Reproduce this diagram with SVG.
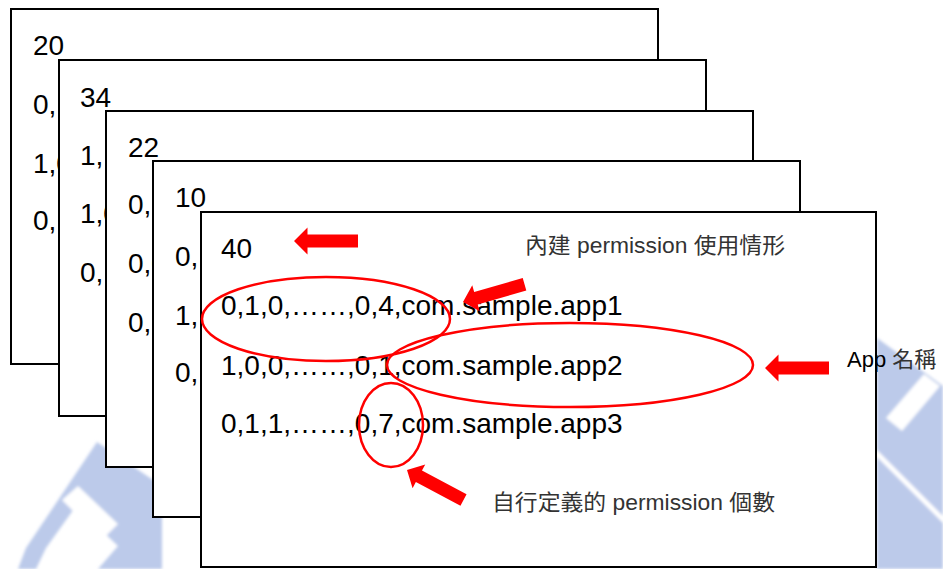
<svg xmlns="http://www.w3.org/2000/svg" xmlns:xlink="http://www.w3.org/1999/xlink" width="943" height="569" viewBox="0 0 943 569">
  <style>
    .card { fill: #ffffff; stroke: #000000; stroke-width: 2; }
    .val { font-family: "Liberation Sans", "Noto Sans", sans-serif; font-size: 28px; fill: #000000; }
    .note { font-family: "Liberation Sans", "Noto Sans CJK TC", sans-serif; font-size: 22px; fill: #333333; }
    .ring { fill: none; stroke: #ff0000; stroke-width: 2.5; }
    .mark { fill: #ff0000; }
    .wm { fill: #bccaea; }
    .wm-gap { fill: #ffffff; }
  </style>
  <defs>
    <!-- block arrow, tip at the origin, pointing left -->
    <path id="blockArrow" d="M0,0 L13.5,-13.5 L13.5,-6.5 L64,-6.5 L64,6.5 L13.5,6.5 L13.5,13.5 Z"/>
    <filter id="soft" x="-5%" y="-5%" width="110%" height="110%">
      <feGaussianBlur stdDeviation="1.5"/>
    </filter>
  </defs>

  <rect width="943" height="569" fill="#ffffff"/>

  <!-- faint background emblem -->
  <g id="emblem" filter="url(#soft)">
    <polygon class="wm" points="97,442 162,486 162,569 98,569 118,546 76,506 46,548 36,569 18,569 26,548"/>
    <polygon class="wm-gap" points="62,500 78,486 118,524 102,540"/>
    <polygon class="wm" points="877,338 943,386 943,569 877,569"/>
    <polygon class="wm-gap" points="886,418 924,374 940,386 902,431"/>
    <polygon class="wm-gap" points="877,450 943,516 943,523 877,457"/>
  </g>

  <g id="card1">
    <rect class="card" x="11" y="9" width="647" height="355"/>
    <text class="val" x="33" y="55">20</text>
    <text class="val" x="33" y="114">0,</text>
    <text class="val" x="33" y="173">1,0</text>
    <text class="val" x="33" y="230">0,</text>
  </g>
  <g id="card2">
    <rect class="card" x="59" y="60" width="647" height="356"/>
    <text class="val" x="80" y="107">34</text>
    <text class="val" x="80" y="165">1,</text>
    <text class="val" x="80" y="223">1,0</text>
    <text class="val" x="80" y="282">0,</text>
  </g>
  <g id="card3">
    <rect class="card" x="106" y="111" width="647" height="356"/>
    <text class="val" x="128" y="157">22</text>
    <text class="val" x="128" y="214">0,</text>
    <text class="val" x="128" y="273">0,0</text>
    <text class="val" x="128" y="332">0,</text>
  </g>
  <g id="card4">
    <rect class="card" x="153" y="161" width="647" height="356"/>
    <text class="val" x="175" y="207">10</text>
    <text class="val" x="175" y="266">0,</text>
    <text class="val" x="175" y="325">1,</text>
    <text class="val" x="175" y="382">0,</text>
  </g>
  <g id="card5">
    <rect class="card" x="201" y="212" width="675" height="355"/>
    <text class="val" x="221" y="258">40</text>
    <text class="val" x="221" y="315">0,1,0,……,0,4,com.sample.app1</text>
    <text class="val" x="221" y="375">1,0,0,……,0,1,com.sample.app2</text>
    <text class="val" x="221" y="433">0,1,1,……,0,7,com.sample.app3</text>
  </g>

  <g id="label-builtin">
    <text class="note" x="525" y="253" textLength="260" lengthAdjust="spacingAndGlyphs">內建 permission 使用情形</text>
  </g>
  <g id="label-appname">
    <text class="note" x="847" y="367"><tspan fill="#000000">App</tspan> 名稱</text>
  </g>
  <g id="label-custom">
    <text class="note" x="492" y="510" textLength="283" lengthAdjust="spacingAndGlyphs">自行定義的 permission 個數</text>
  </g>

  <g id="connectors">
    <ellipse class="ring" cx="326" cy="319" rx="124" ry="42"/>
    <ellipse class="ring" cx="570" cy="365" rx="183" ry="42"/>
    <ellipse class="ring" cx="391" cy="425" rx="32" ry="42"/>
    <use class="mark" xlink:href="#blockArrow" transform="translate(294,241)"/>
    <use class="mark" xlink:href="#blockArrow" transform="translate(463,302) rotate(-16)"/>
    <use class="mark" xlink:href="#blockArrow" transform="translate(765,368)"/>
    <use class="mark" xlink:href="#blockArrow" transform="translate(407,470) rotate(28)"/>
  </g>
</svg>
